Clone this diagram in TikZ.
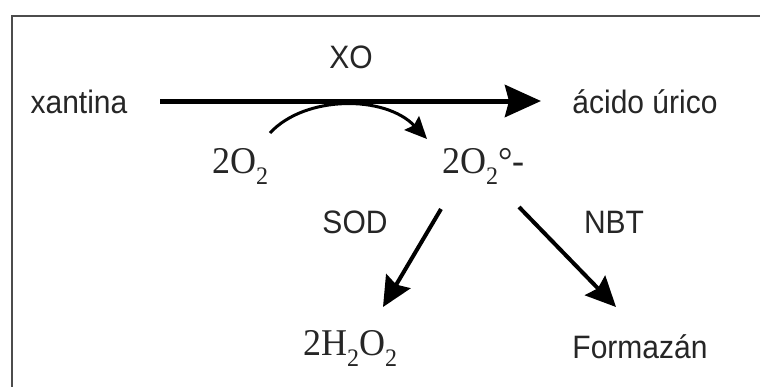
\documentclass[tikz,border=0pt]{standalone}
\usepackage{fontspec}
\setmainfont{Liberation Sans}
\newfontfamily\chemfont{Liberation Serif}
\usetikzlibrary{arrows.meta}
\newcommand{\chsub}[1]{\raisebox{-11pt}{\fontsize{24}{26}\selectfont #1}}
\tikzset{
  lbl/.style={font=\fontsize{30}{33}\selectfont, text=black!85, inner sep=0pt, anchor=base, yscale=1.08, transform shape},
  chem/.style={font=\chemfont\fontsize{36}{40}\selectfont, text=black!85, inner sep=0pt, anchor=base west, yscale=1.05, transform shape},
  bigarrow/.style={line width=5pt, -{Stealth[length=36pt,width=32pt,inset=4pt]}},
  diagarrow/.style={line width=4pt, -{Stealth[length=30pt,width=28pt,inset=4pt]}},
  curvearrow/.style={line width=3pt, -{Stealth[length=22pt,width=20pt,inset=3pt]}},
}
\begin{document}
\begin{tikzpicture}[x=1pt,y=-1pt]
\useasboundingbox (0,0) rectangle (760,386);
\fill[white] (0,0) rectangle (760,386);
\draw[line width=2pt, black!70] (12,16) rectangle (775,400);
% texts
\node[lbl] (xan) at (79,113) {xantina};
\node[lbl] (xo) at (351,68) {XO};
\node[lbl] (acido) at (645,113) {ácido úrico};
\node[chem] (otwo) at (212,173) {2O\chsub{2}};
\node[chem] (sup) at (442,173) {2O\chsub{2}°-};
\node[lbl] (sod) at (355,233) {SOD};
\node[lbl] (nbt) at (614,233) {NBT};
\node[chem] (hp) at (303,355) {2H\chsub{2}O\chsub{2}};
\node[lbl] (form) at (640,358) {Formazán};
% connectors
\coordinate (a1) at (160,101);
\coordinate (a2) at (541,101);
\draw[bigarrow] (a1) -- (a2);
\coordinate (c1) at (270,133);
\coordinate (c2) at (427,139);
\draw[curvearrow] (c1) .. controls (305,95) and (385,95) .. (c2);
\coordinate (s1) at (441,209);
\coordinate (s2) at (383,307);
\draw[diagarrow] (s1) -- (s2);
\coordinate (n1) at (519,207);
\coordinate (n2) at (616,307);
\draw[diagarrow] (n1) -- (n2);
\end{tikzpicture}
\end{document}
